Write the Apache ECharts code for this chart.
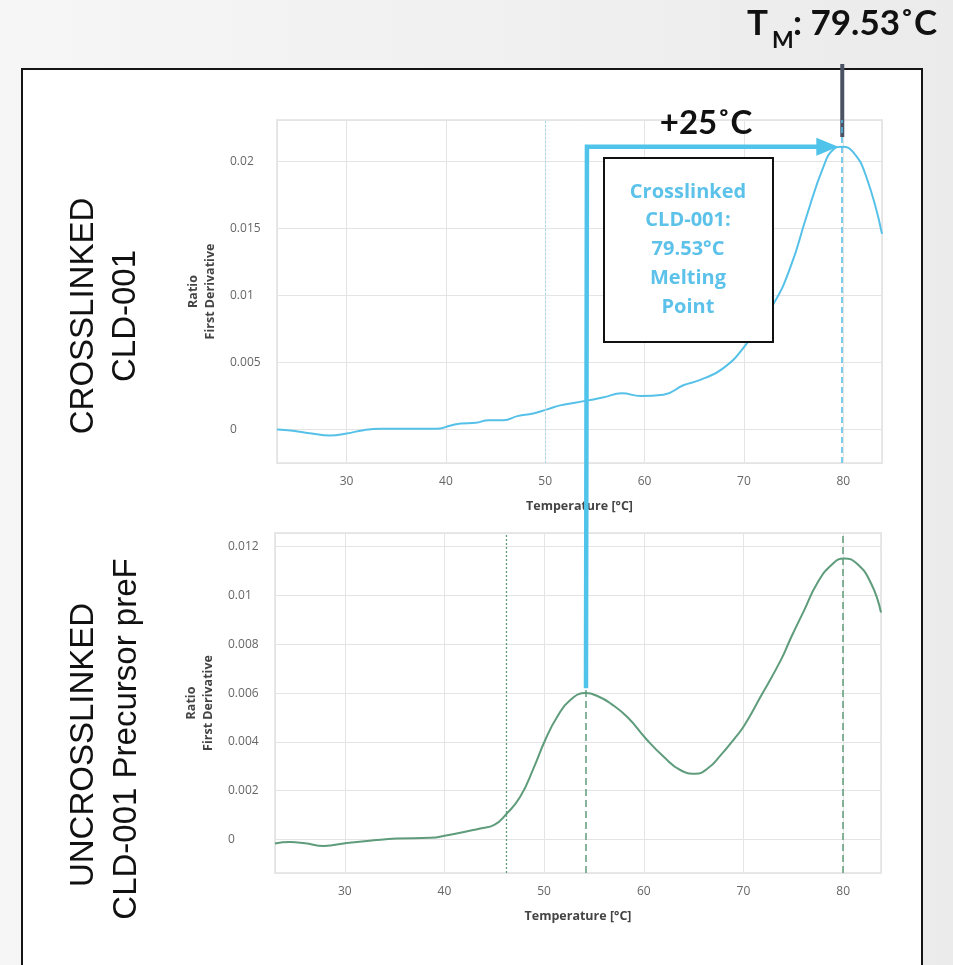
<!DOCTYPE html>
<html>
<head>
<meta charset="utf-8">
<script src="https://cdn.jsdelivr.net/npm/echarts@6/dist/echarts.min.js"></script>
<style>
html,body{margin:0;padding:0;}
#chart{width:953px;height:965px;}
</style>
</head>
<body>
<div id="chart"></div>
<script>
// ---- Data ----
const tempTop = [23, 24.6, 26.5, 28.3, 30, 31.7, 33.5, 36, 39, 40.5, 41.5, 43, 44.3, 45.8, 47.2, 48.8, 50.2, 51.5, 53, 54.5, 55.9, 57.7, 59.6, 61.9, 63.9, 65.6, 67.9, 70.3, 73, 74.7, 76.3, 78, 79, 79.9, 81, 82.3, 83.9];
const valTop  = [0, -0.0001, -0.0003, -0.00045, -0.0003, -0.00005, 0.00005, 0.00005, 0.00005, 0.0003, 0.00045, 0.0005, 0.0007, 0.0007, 0.001, 0.0012, 0.0015, 0.0018, 0.002, 0.0022, 0.0024, 0.0027, 0.0025, 0.0026, 0.0033, 0.0037, 0.00456, 0.00643, 0.0094, 0.01215, 0.0159, 0.0196, 0.0209, 0.0211, 0.0207, 0.0189, 0.0146];

const tempBottom = [23, 24.5, 26, 27.9, 30.2, 32.9, 35.2, 38.6, 40.3, 42.3, 43.6, 45, 46.2, 47.6, 49, 50.1, 51.3, 52.6, 54.2, 55.5, 56.7, 58.4, 60.2, 62, 63.7, 65.2, 66.4, 67.7, 69.1, 70.1, 71.7, 73.75, 74.8, 76.1, 77.4, 78.8, 80.1, 81.4, 82.8, 83.8];
const valBottom  = [-0.00016, -0.0001, -0.00015, -0.00026, -0.00014, -0.00003, 0.00004, 0.00007, 0.00018, 0.00034, 0.00045, 0.0006, 0.00104, 0.00175, 0.00298, 0.00407, 0.00502, 0.00571, 0.006, 0.00585, 0.00557, 0.0050, 0.00414, 0.00339, 0.00284, 0.0027, 0.00291, 0.00345, 0.00414, 0.00468, 0.00584, 0.00735, 0.0083, 0.0094, 0.0105, 0.01124, 0.01152, 0.0113, 0.0105, 0.0093];

const meltTop = 79.8;          // dashed line, top chart
const guideTop = 50;           // faint dotted line, top chart
const onsetBottom = 46.2;      // dotted line, bottom chart
const peaksBottom = [54.2, 80.0];
const peakBottomValue = 0.0062;
const peakTopValue = 0.0211;

const labelTM = ': 79.53˚C';
const labelShift = '+25˚C';
const boxLines = ['Crosslinked', 'CLD-001:', '79.53°C', 'Melting', 'Point'];

// ---- Chart ----
const chart = echarts.init(document.getElementById('chart'), null, {renderer: 'canvas'});
const blue = '#56c1e8';
const green = '#5e9c7b';
const tickFont = {color: '#666', fontSize: 12, fontFamily: 'Open Sans'};
const nameFont = {color: '#444', fontSize: 12.5, fontWeight: 'bold', fontFamily: 'Open Sans', lineHeight: 17};

function xAxisCfg(idx, max) {
  return {
    type: 'value', gridIndex: idx, min: 23, max: max, splitNumber: 6,
    name: 'Temperature [°C]', nameLocation: 'middle', nameGap: 35, nameTextStyle: nameFont,
    axisLine: {show: false}, axisTick: {show: false},
    axisLabel: Object.assign({margin: 13, showMinLabel: false, showMaxLabel: false}, tickFont),
    splitLine: {show: true, lineStyle: {color: '#e4e4e4', width: 1}}
  };
}
function yAxisCfg(idx, min, max, split) {
  return {
    type: 'value', gridIndex: idx, min: min, max: max, splitNumber: split,
    name: 'Ratio\nFirst Derivative', nameLocation: 'middle', nameGap: 57, nameRotate: 90, nameTextStyle: nameFont,
    axisLine: {show: false}, axisTick: {show: false},
    axisLabel: Object.assign({margin: 47, align: 'left', showMinLabel: false, showMaxLabel: false}, tickFont),
    splitLine: {show: true, lineStyle: {color: '#e4e4e4', width: 1}}
  };
}

const option = {
  animation: false,
  backgroundColor: {type: 'linear', x: 0, y: 0, x2: 1, y2: 0, colorStops: [{offset: 0, color: '#f6f6f6'}, {offset: 1, color: '#ebebeb'}]},
  grid: [
    {left: 277, top: 120, width: 605, height: 343, show: true, borderColor: '#e8e8e8', borderWidth: 2, backgroundColor: 'transparent'},
    {left: 275, top: 533, width: 606, height: 340, show: true, borderColor: '#e8e8e8', borderWidth: 2, backgroundColor: 'transparent'}
  ],
  xAxis: [xAxisCfg(0, 83.9), xAxisCfg(1, 83.8)],
  yAxis: [yAxisCfg(0, -0.0025, 0.0231, 5), yAxisCfg(1, -0.00137, 0.01256, 7)],
  series: [
    {
      type: 'line', xAxisIndex: 0, yAxisIndex: 0, smooth: 0.5, symbol: 'none',
      data: tempTop.map((t, i) => [t, valTop[i]]),
      lineStyle: {color: blue, width: 2},
      markLine: {
        silent: true, symbol: 'none', label: {show: false},
        data: [
          {xAxis: meltTop, lineStyle: {color: '#4fbde6', type: [6, 4], width: 1.5}},
          {xAxis: guideTop, lineStyle: {color: '#a9d8ea', type: [2, 2], width: 1}}
        ]
      }
    },
    {
      type: 'line', xAxisIndex: 1, yAxisIndex: 1, smooth: 0.5, symbol: 'none',
      data: tempBottom.map((t, i) => [t, valBottom[i]]),
      lineStyle: {color: green, width: 2},
      markLine: {
        silent: true, symbol: 'none', label: {show: false},
        data: [
          {xAxis: onsetBottom, lineStyle: {color: green, type: [2, 2], width: 1.3}},
          {xAxis: peaksBottom[0], lineStyle: {color: green, type: [7, 4], width: 1.5}},
          {xAxis: peaksBottom[1], lineStyle: {color: green, type: [7, 4], width: 1.5}}
        ]
      }
    }
  ]
};
chart.setOption(option);

// ---- Annotations positioned through the axes ----
const pStart = chart.convertToPixel({xAxisIndex: 1, yAxisIndex: 1}, [peaksBottom[0], peakBottomValue]);
const pCorner = chart.convertToPixel({xAxisIndex: 0, yAxisIndex: 0}, [peaksBottom[0], peakTopValue]);
const pTip = chart.convertToPixel({xAxisIndex: 0, yAxisIndex: 0}, [meltTop - 0.3, peakTopValue]);
const pMelt = chart.convertToPixel({xAxisIndex: 0, yAxisIndex: 0}, [meltTop, 0]);
const ay = pCorner[1];

const graphics = [
  {type: 'rect', z: -100, shape: {x: 22, y: 69, width: 900, height: 1000}, style: {fill: '#ffffff', stroke: '#151515', lineWidth: 2}},
  {type: 'text', x: 84, y: 316, rotation: Math.PI / 2, style: {text: 'CROSSLINKED', fill: '#111', font: '33px "Liberation Sans"', align: 'center', verticalAlign: 'middle'}},
  {type: 'text', x: 126, y: 316, rotation: Math.PI / 2, style: {text: 'CLD-001', fill: '#111', font: '33px "Liberation Sans"', align: 'center', verticalAlign: 'middle'}},
  {type: 'text', x: 84, y: 745, rotation: Math.PI / 2, style: {text: 'UNCROSSLINKED', fill: '#111', font: '33px "Liberation Sans"', align: 'center', verticalAlign: 'middle'}},
  {type: 'text', x: 127, y: 739, rotation: Math.PI / 2, style: {text: 'CLD-001 Precursor preF', fill: '#111', font: '33px "Liberation Sans"', align: 'center', verticalAlign: 'middle'}},
  // title
  {type: 'text', x: 747, y: 24, style: {text: 'T', fill: '#111', font: 'bold 35px Lato', align: 'left', verticalAlign: 'middle'}},
  {type: 'text', x: 772, y: 41, style: {text: 'M', fill: '#111', font: 'bold 23px Lato', align: 'left', verticalAlign: 'middle'}},
  {type: 'text', x: 793, y: 24, style: {text: labelTM, fill: '#111', font: 'bold 35px Lato', align: 'left', verticalAlign: 'middle'}},
  // dark connector
  {type: 'line', shape: {x1: pMelt[0] + 1, y1: 64, x2: pMelt[0] + 1, y2: 137}, style: {stroke: '#4a5264', lineWidth: 4}},
  // +25 label
  {type: 'text', x: 706, y: 123, style: {text: labelShift, fill: '#111', font: 'bold 33px Lato', align: 'center', verticalAlign: 'middle'}},
  // blue arrow
  {type: 'polyline', z: 10, shape: {points: [[pStart[0], pStart[1]], [pCorner[0], ay], [pTip[0] - 20, ay]]}, style: {stroke: '#4fc3ea', lineWidth: 4.5, fill: null, lineJoin: 'miter'}},
  {type: 'polygon', z: 10, shape: {points: [[pTip[0] - 22, ay - 9], [pTip[0], ay], [pTip[0] - 22, ay + 9]]}, style: {fill: '#4fc3ea'}},
  // box
  {type: 'rect', z: 11, shape: {x: 604, y: 158, width: 169, height: 184}, style: {fill: '#ffffff', stroke: '#111', lineWidth: 2}}
];
boxLines.forEach((t, i) => {
  graphics.push({type: 'text', z: 12, x: 688, y: 192 + i * 28.7, style: {text: t, fill: '#5cc2ea', font: 'bold 20px "Open Sans"', align: 'center', verticalAlign: 'middle'}});
});
chart.setOption({graphic: graphics});
</script>
</body>
</html>
